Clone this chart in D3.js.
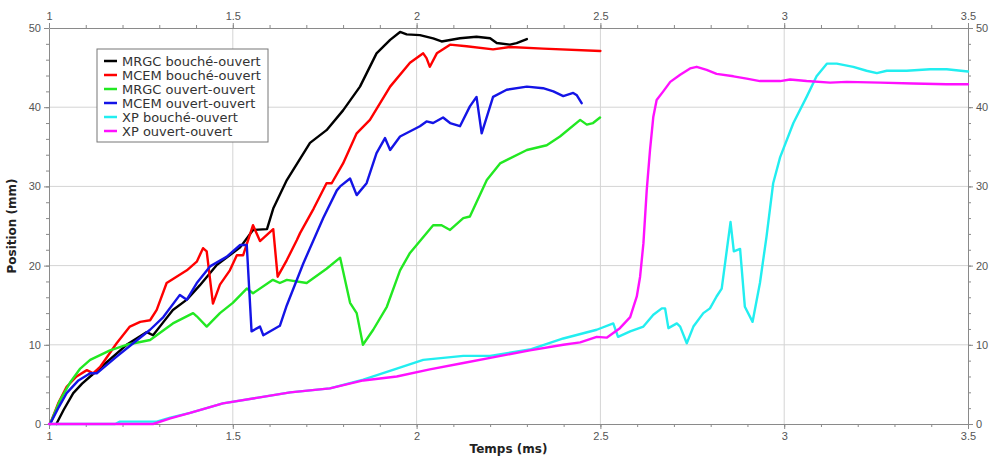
<!DOCTYPE html>
<html><head><meta charset="utf-8">
<script src="https://cdn.jsdelivr.net/npm/d3@7"></script>
<style>
html,body{margin:0;padding:0;background:#fff;}
svg{display:block;font-family:"DejaVu Sans",Verdana,sans-serif;}
</style></head>
<body>
<svg id="chart" width="991" height="457"></svg>
<script>
// ---------- data (time in ms, position in mm) ----------
const seriesNames = ["MRGC bouché-ouvert","MCEM bouché-ouvert","MRGC ouvert-ouvert","MCEM ouvert-ouvert","XP bouché-ouvert","XP ouvert-ouvert"];
const seriesColors = ["#000000","#ff0000","#22e822","#1414e6","#22eef0","#ff10ff"];

const mrgcBoucheOuvert = [[1.02,0],[1.04,1.8],[1.066,3.9],[1.09,5.1],[1.112,6],[1.157,7.8],[1.211,10],[1.266,11.6],[1.283,11.2],[1.31,12.8],[1.337,14.4],[1.375,15.7],[1.41,17.5],[1.457,20.1],[1.52,22.3],[1.555,24.5],[1.593,24.6],[1.61,27.2],[1.647,30.8],[1.71,35.5],[1.755,37.1],[1.8,39.6],[1.846,42.6],[1.891,46.8],[1.928,48.5],[1.955,49.5],[1.973,49.2],[2.009,49.1],[2.045,48.7],[2.068,48.3],[2.118,48.7],[2.163,48.9],[2.2,48.7],[2.218,48.1],[2.254,47.9],[2.272,48.1],[2.3,48.6]];
const mcemBoucheOuvert = [[1.003,0],[1.025,2.6],[1.048,4.7],[1.075,6],[1.103,6.8],[1.12,6.4],[1.139,7.2],[1.184,10.2],[1.22,12.3],[1.248,12.9],[1.275,13.1],[1.293,14.4],[1.32,17.8],[1.347,18.6],[1.375,19.4],[1.402,20.5],[1.419,22.2],[1.429,21.8],[1.446,15.2],[1.465,17.6],[1.492,19.4],[1.511,21.3],[1.528,21.3],[1.555,25.1],[1.574,23.1],[1.61,24.6],[1.622,18.6],[1.647,20.7],[1.674,23.2],[1.683,24.1],[1.72,27.2],[1.755,30.4],[1.769,30.4],[1.8,32.9],[1.837,36.7],[1.873,38.4],[1.928,42.6],[1.982,45.6],[2.018,46.8],[2.027,46.2],[2.036,45.1],[2.055,46.8],[2.091,47.9],[2.136,47.7],[2.208,47.3],[2.254,47.6],[2.344,47.4],[2.5,47.1]];
const mrgcOuvertOuvert = [[1.003,0],[1.03,3],[1.057,5.2],[1.085,7],[1.112,8.1],[1.166,9.3],[1.211,10],[1.275,10.6],[1.337,12.7],[1.392,14],[1.402,13.6],[1.429,12.3],[1.465,14],[1.5,15.3],[1.538,17.1],[1.555,16.5],[1.609,18.2],[1.628,17.8],[1.647,18.2],[1.701,17.8],[1.755,19.6],[1.792,21],[1.819,15.3],[1.837,14],[1.854,10],[1.882,11.9],[1.919,14.8],[1.955,19.4],[1.982,21.6],[2.045,25.1],[2.068,25.1],[2.091,24.5],[2.127,26],[2.145,26.2],[2.191,30.8],[2.227,32.9],[2.3,34.6],[2.354,35.2],[2.39,36.3],[2.445,38.4],[2.463,37.8],[2.48,38],[2.499,38.7]];
const mcemOuvertOuvert = [[1.003,0],[1.025,2],[1.048,3.9],[1.08,5.5],[1.112,6.4],[1.13,6.4],[1.184,8.5],[1.229,10.2],[1.275,11.9],[1.311,13.5],[1.356,16.3],[1.375,15.7],[1.402,17.8],[1.438,19.9],[1.483,21.1],[1.52,22.6],[1.538,22.6],[1.551,11.7],[1.574,12.3],[1.583,11.2],[1.628,12.4],[1.647,15],[1.692,20.3],[1.746,26],[1.783,29.5],[1.792,30],[1.819,31],[1.837,28.9],[1.864,30.4],[1.891,34.2],[1.914,36.1],[1.928,34.6],[1.955,36.3],[2.009,37.6],[2.027,38.2],[2.045,38],[2.072,38.7],[2.091,38],[2.118,37.6],[2.145,40.1],[2.163,41.3],[2.177,36.7],[2.208,41.3],[2.245,42.2],[2.3,42.6],[2.344,42.4],[2.372,42],[2.399,41.4],[2.426,41.8],[2.436,41.5],[2.449,40.5]];
const xpBoucheOuvert = [[1.0,0],[1.18,0],[1.193,0.3],[1.293,0.3],[1.33,0.8],[1.384,1.4],[1.473,2.6],[1.565,3.3],[1.656,4],[1.764,4.5],[1.855,5.6],[1.946,7],[2.018,8.1],[2.127,8.6],[2.2,8.6],[2.308,9.4],[2.399,10.8],[2.49,11.9],[2.535,12.7],[2.548,11],[2.581,11.7],[2.617,12.3],[2.644,13.8],[2.667,14.6],[2.676,14.6],[2.685,12.1],[2.708,12.7],[2.717,12.3],[2.735,10.2],[2.753,12.3],[2.78,14],[2.798,14.6],[2.816,16.1],[2.83,17.1],[2.844,22],[2.854,25.5],[2.863,21.8],[2.88,22.1],[2.893,14.8],[2.914,12.9],[2.934,17.8],[2.952,23.7],[2.97,30.4],[2.989,33.7],[3.025,38],[3.061,41.3],[3.088,43.9],[3.116,45.5],[3.143,45.5],[3.188,45.1],[3.224,44.6],[3.252,44.3],[3.279,44.6],[3.333,44.6],[3.397,44.8],[3.442,44.8],[3.5,44.5]];
const xpOuvertOuvert = [[1.0,0],[1.283,0],[1.33,0.7],[1.384,1.4],[1.473,2.6],[1.565,3.3],[1.656,4],[1.764,4.5],[1.855,5.5],[1.946,6],[2.036,6.9],[2.127,7.7],[2.218,8.5],[2.308,9.3],[2.399,10],[2.445,10.3],[2.49,11],[2.517,10.9],[2.553,12.1],[2.581,13.5],[2.599,16.1],[2.608,18.6],[2.617,22.8],[2.626,29.5],[2.635,34.6],[2.644,38.8],[2.653,40.9],[2.671,42],[2.69,43.2],[2.717,44.1],[2.744,44.9],[2.762,45.1],[2.789,44.7],[2.816,44.2],[2.862,43.9],[2.898,43.6],[2.934,43.3],[2.989,43.3],[3.016,43.5],[3.061,43.3],[3.125,43.1],[3.17,43.2],[3.261,43.1],[3.351,43],[3.442,42.9],[3.5,42.9]];

const xTicks = [1,1.5,2,2.5,3,3.5];
const xTickLabels = ["1","1.5","2","2.5","3","3.5"];
const yTicks = [0,10,20,30,40,50];
const xTitle = "Temps (ms)";
const yTitle = "Position (mm)";

const allSeries = [mrgcBoucheOuvert, mcemBoucheOuvert, mrgcOuvertOuvert, mcemOuvertOuvert, xpBoucheOuvert, xpOuvertOuvert];

// ---------- layout ----------
const W = 991, H = 457;
const m = {left:49, right:23, top:28, bottom:33};
const svg = d3.select("#chart");
const x = d3.scaleLinear().domain([1,3.5]).range([m.left, W-m.right]);
const y = d3.scaleLinear().domain([0,50]).range([H-m.bottom, m.top]);

const axisColor = "#8a8a8a", labelColor = "#555";

// grid
const grid = svg.append("g");
grid.selectAll("line.gx").data(xTicks.slice(1,-1)).join("line")
  .attr("x1",d=>x(d)).attr("x2",d=>x(d)).attr("y1",y(0)).attr("y2",y(50))
  .attr("stroke","#d4d4d4").attr("stroke-width",1);
grid.selectAll("line.gy").data(yTicks.slice(1,-1)).join("line")
  .attr("y1",d=>y(d)).attr("y2",d=>y(d)).attr("x1",x(1)).attr("x2",x(3.5))
  .attr("stroke","#d4d4d4").attr("stroke-width",1);

// axes
function styleAxis(g){
  g.select(".domain").attr("stroke",axisColor);
  g.selectAll(".tick line").attr("stroke",axisColor);
  g.selectAll(".tick text").attr("fill",labelColor).style("font-size","11px");
}
const xMinor = d3.range(1,3.5001,0.1).map(v=>+v.toFixed(2));
const yMinor = d3.range(0,50.001,2);
function addAxis(axisFn, scale, major, minor, transform, fmt){
  const gMinor = svg.append("g").attr("transform",transform)
    .call(axisFn(scale).tickValues(minor).tickSize(3).tickFormat(""));
  gMinor.select(".domain").remove();
  gMinor.selectAll(".tick line").attr("stroke",axisColor);
  const g = svg.append("g").attr("transform",transform)
    .call(axisFn(scale).tickValues(major).tickSize(5).tickSizeOuter(0).tickFormat(fmt).tickPadding(3));
  styleAxis(g);
  return g;
}
const fmtX = (d,i)=>xTickLabels[i];
addAxis(d3.axisBottom, x, xTicks, xMinor, `translate(0,${y(0)})`, fmtX);
addAxis(d3.axisTop, x, xTicks, xMinor, `translate(0,${y(50)})`, fmtX);
addAxis(d3.axisLeft, y, yTicks, yMinor, `translate(${x(1)},0)`, d3.format("d"));
addAxis(d3.axisRight, y, yTicks, yMinor, `translate(${x(3.5)},0)`, d3.format("d"));

// titles
svg.append("text").attr("x",(x(1)+x(3.5))/2).attr("y",H-4).attr("text-anchor","middle")
  .style("font-size","12px").style("font-weight","bold").attr("fill","#222").text(xTitle);
svg.append("text").attr("transform",`translate(16,${(y(0)+y(50))/2}) rotate(-90)`).attr("text-anchor","middle")
  .style("font-size","12px").style("font-weight","bold").attr("fill","#222").text(yTitle);

// lines
const line = d3.line().x(d=>x(d[0])).y(d=>y(d[1]));
const plot = svg.append("g");
allSeries.forEach((s,i)=>{
  plot.append("path").datum(s).attr("d",line).attr("fill","none")
    .attr("stroke",seriesColors[i]).attr("stroke-width",2.4)
    .attr("stroke-linejoin","round").attr("stroke-linecap","round");
});

// legend
const lg = svg.append("g").attr("transform","translate(97,49)");
lg.append("rect").attr("width",171).attr("height",93).attr("fill","#fff").attr("stroke","#777").attr("stroke-width",1);
seriesNames.forEach((n,i)=>{
  const yy = 12 + i*14;
  lg.append("line").attr("x1",7).attr("x2",20).attr("y1",yy).attr("y2",yy)
    .attr("stroke",seriesColors[i]).attr("stroke-width",2.5);
  lg.append("text").attr("x",25).attr("y",yy+4.5).style("font-size","13px").attr("fill","#333").text(n);
});
</script>
</body></html>
